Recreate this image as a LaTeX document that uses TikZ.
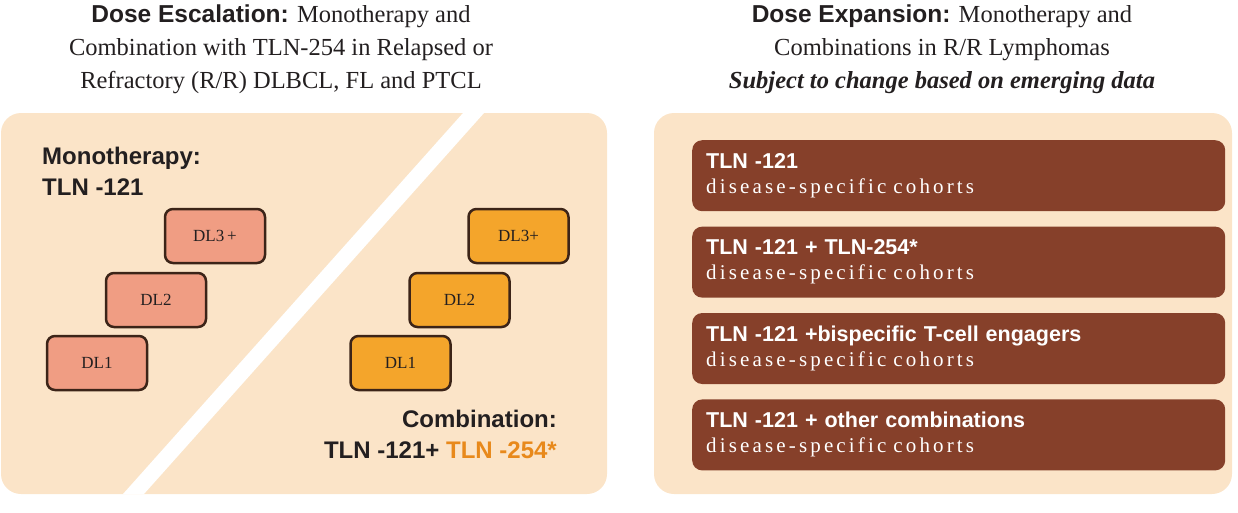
\documentclass[tikz,border=0pt]{standalone}
\usepackage{fontspec}
\setmainfont{Liberation Serif}
\setsansfont{Liberation Sans}
\newfontfamily\spacedserif[LetterSpace=15]{Liberation Serif}
\usetikzlibrary{positioning}
\definecolor{peach}{HTML}{FBE4C8}
\definecolor{salmon}{HTML}{F09D83}
\definecolor{amber}{HTML}{F4A52B}
\definecolor{rust}{HTML}{86402A}
\definecolor{edge}{HTML}{3C2418}
\definecolor{tlnorange}{HTML}{E8891B}
\definecolor{ink}{HTML}{231F20}
\tikzset{
  panel/.style={fill=peach, rounded corners=20pt, inner sep=0pt},
  dlbox/.style={draw=edge, line width=2.5pt, rounded corners=8pt, minimum width=100pt, minimum height=54pt, font=\fontsize{17}{20}\selectfont, text=ink},
  mono/.style={dlbox, fill=salmon},
  combo/.style={dlbox, fill=amber},
  cohort/.style={fill=rust, rounded corners=10pt, minimum width=533pt, minimum height=71pt, text width=505pt, inner xsep=14pt, align=left, text=white, font=\fontsize{21}{25}\selectfont},
  heading/.style={align=center, inner sep=0pt, text=ink, font=\fontsize{24.5}{33}\selectfont},
  armlabel/.style={inner sep=0pt, text=ink, font=\sffamily\bfseries\fontsize{24}{31}\selectfont},
}
\begin{document}
\begin{tikzpicture}[x=1pt, y=-1pt]
\useasboundingbox (0,0) rectangle (1238,512);

% --- headings ---
\node (esctitle) [heading, anchor=north] at (281,5) {\textsf{\bfseries Dose Escalation:} Monotherapy and\\Combination with TLN-254 in Relapsed or\\Refractory (R/R) DLBCL, FL and PTCL};
\node (exptitle) [heading, anchor=north] at (942,5) {\textsf{\bfseries Dose Expansion:} Monotherapy and\\Combinations in R/R Lymphomas\\\textbf{\textit{Subject to change based on emerging data}}};

% --- escalation panel with diagonal split ---
\node (escpanel) [panel, minimum width=606pt, minimum height=381pt] at (304,303.5) {};
\fill[white] (463,113) -- (484,113) -- (144,494) -- (123,494) -- cycle;

\node (monolabel) [armlabel, anchor=north west, align=left] at (42,147) {Monotherapy:\\TLN -121};
\node (combolabel) [armlabel, anchor=north east, align=right] at (557,410) {Combination:\\TLN -121+ \textcolor{tlnorange}{TLN -254*}};

% monotherapy dose levels
\node (m3) [mono] at (215,236) {DL3\,+};
\node (m2) [mono] at (156,300) {DL2};
\node (m1) [mono] at (97,363) {DL1};

% combination dose levels
\node (c3) [combo, right=201pt of m3] {DL3+};
\node (c2) [combo, right=201pt of m2] {DL2};
\node (c1) [combo, right=201pt of m1] {DL1};

% --- expansion panel ---
\node (exppanel) [panel, minimum width=578pt, minimum height=381pt] at (943,303.5) {};

\node (k1) [cohort, anchor=north west] at (692,140) {{\sffamily\bfseries\fontsize{21.5}{25}\selectfont TLN -121}\\{\spacedserif disease-specific cohorts}};
\node (k2) [cohort, below=15pt of k1] {{\sffamily\bfseries\fontsize{21.5}{25}\selectfont TLN -121 + TLN-254*}\\{\spacedserif disease-specific cohorts}};
\node (k3) [cohort, below=15pt of k2] {{\sffamily\bfseries\fontsize{21.5}{25}\selectfont TLN -121 +bispecific T-cell engagers}\\{\spacedserif disease-specific cohorts}};
\node (k4) [cohort, below=15pt of k3] {{\sffamily\bfseries\fontsize{21.5}{25}\selectfont TLN -121 + other combinations}\\{\spacedserif disease-specific cohorts}};

\end{tikzpicture}
\end{document}
